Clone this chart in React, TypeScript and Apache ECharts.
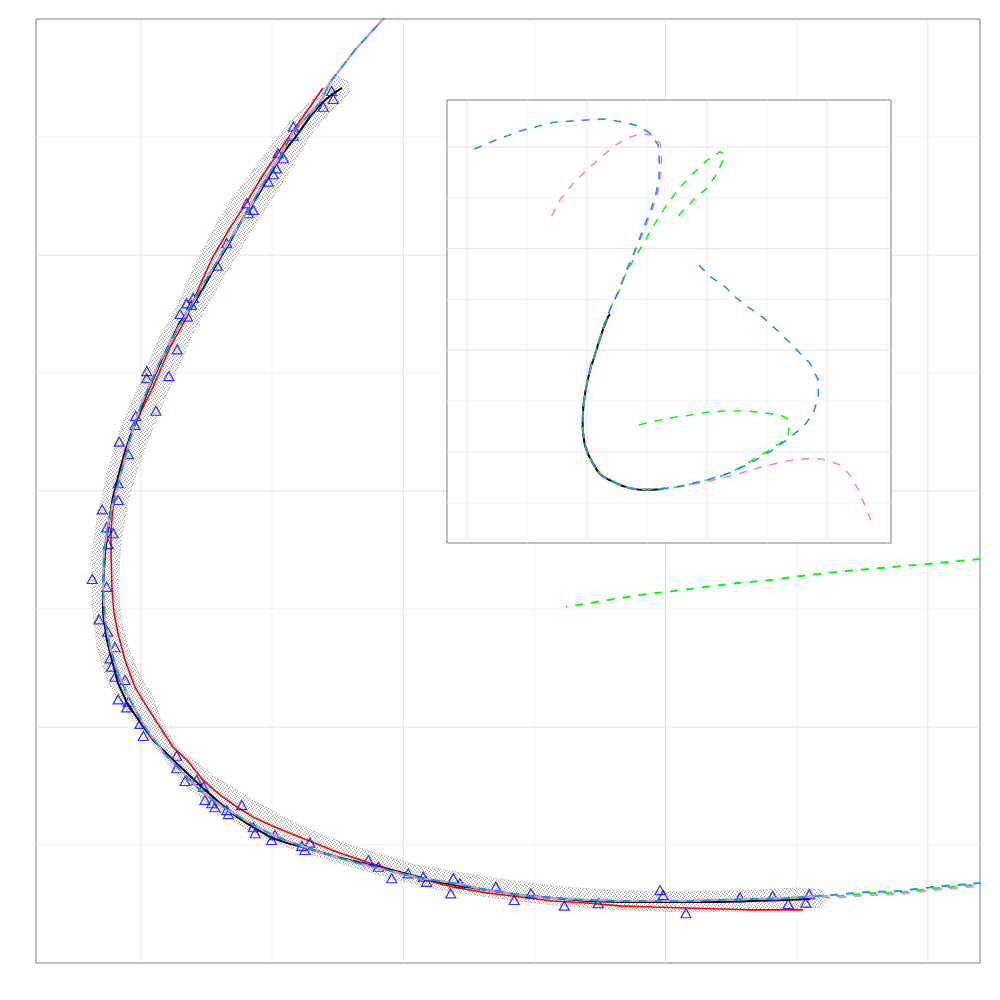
import React, { useEffect, useRef } from "react";
import * as echarts from "echarts";

// ---------- data (axis units; main panel: x -0.4..3.2, y -1..3) ----------
const mainXMajor = [0, 1, 2, 3];
const mainXMinor = [0.5, 1.5, 2.5];
const mainYMajor = [0, 1, 2];
const mainYMinor = [-0.5, 0.5, 1.5, 2.5];
const insetXMajor = [-4, 0, 4, 8];
const insetXMinor = [-2, 2, 6, 10];
const insetYMajor = [0, 2, 4, 6];
const insetYMinor = [-1, 1, 3, 5];

const blackCurve: number[][] = [
  [0.766, 2.708], [0.721, 2.674], [0.69, 2.644], [0.644, 2.585], [0.595, 2.508], [0.541, 2.432],
  [0.492, 2.339], [0.442, 2.246], [0.389, 2.157], [0.339, 2.055], [0.282, 1.949], [0.233, 1.852],
  [0.198, 1.788], [0.149, 1.716], [0.084, 1.568], [0.023, 1.415], [-0.042, 1.229], [-0.08, 1.089],
  [-0.107, 0.975], [-0.126, 0.843], [-0.137, 0.737], [-0.145, 0.593], [-0.145, 0.483], [-0.13, 0.369],
  [-0.111, 0.284], [-0.088, 0.186], [-0.053, 0.102], [-0.004, 0.021], [0.046, -0.055], [0.111, -0.127],
  [0.175, -0.195], [0.236, -0.258], [0.301, -0.322], [0.366, -0.381], [0.427, -0.424], [0.492, -0.466],
  [0.557, -0.492], [0.633, -0.513], [0.747, -0.551], [0.873, -0.585], [0.999, -0.619], [1.102, -0.648],
  [1.189, -0.669], [1.319, -0.691], [1.445, -0.712], [1.571, -0.725], [1.7, -0.737], [1.826, -0.742],
  [1.952, -0.742], [2.082, -0.742], [2.207, -0.742], [2.333, -0.737], [2.463, -0.733], [2.551, -0.729],
];

const redCurve: number[][] = [
  [0.694, 2.708], [0.644, 2.627], [0.595, 2.551], [0.53, 2.445], [0.465, 2.339], [0.404, 2.225],
  [0.339, 2.114], [0.274, 1.992], [0.225, 1.873], [0.175, 1.737], [0.111, 1.61], [0.046, 1.441],
  [-0.015, 1.301], [-0.061, 1.174], [-0.088, 1.059], [-0.107, 0.932], [-0.114, 0.835], [-0.114, 0.737],
  [-0.111, 0.593], [-0.103, 0.483], [-0.088, 0.398], [-0.061, 0.284], [-0.023, 0.169], [0.023, 0.085],
  [0.072, 0], [0.122, -0.085], [0.175, -0.14], [0.236, -0.225], [0.301, -0.288], [0.366, -0.339],
  [0.427, -0.381], [0.492, -0.415], [0.557, -0.445], [0.633, -0.479], [0.747, -0.53], [0.873, -0.576],
  [0.999, -0.619], [1.128, -0.661], [1.189, -0.678], [1.319, -0.703], [1.445, -0.72], [1.571, -0.737],
  [1.7, -0.746], [1.826, -0.758], [1.952, -0.763], [2.082, -0.767], [2.207, -0.771], [2.333, -0.775],
  [2.524, -0.775],
];

// shared middle part of the three dashed curves
const dashCore: number[][] = [
  [0.816, 2.869], [0.77, 2.801], [0.721, 2.733], [0.682, 2.644], [0.629, 2.581], [0.58, 2.521],
  [0.53, 2.415], [0.48, 2.331], [0.416, 2.203], [0.328, 2.042], [0.236, 1.873], [0.194, 1.788],
  [0.137, 1.682], [0.072, 1.547], [0.008, 1.386], [-0.023, 1.288], [-0.053, 1.174], [-0.08, 1.059],
  [-0.107, 0.949], [-0.126, 0.856], [-0.141, 0.737], [-0.145, 0.593], [-0.137, 0.453], [-0.118, 0.339],
  [-0.092, 0.242], [-0.061, 0.157], [-0.015, 0.059], [0.023, -0.013], [0.084, -0.106], [0.149, -0.182],
  [0.225, -0.267], [0.29, -0.322], [0.351, -0.364], [0.427, -0.415], [0.503, -0.458], [0.58, -0.492],
  [0.682, -0.53], [0.808, -0.572], [0.938, -0.606], [1.064, -0.64], [1.189, -0.661], [1.319, -0.691],
  [1.445, -0.712], [1.571, -0.725], [1.7, -0.733], [1.826, -0.737], [1.952, -0.737], [2.082, -0.737],
  [2.207, -0.733], [2.333, -0.729], [2.463, -0.725], [2.577, -0.716],
];

const blueHead: number[][] = [
  [-3.757, 5.961], [-3.123, 6.118], [-2.123, 6.335], [-1.123, 6.486], [-0.01, 6.532], [0.543, 6.551],
  [1.157, 6.498], [1.71, 6.414], [2.1, 6.27], [2.377, 6.04], [2.41, 5.745], [2.4, 5.385], [2.3, 5.089],
  [2.123, 4.761], [1.9, 4.432], [1.71, 4.137], [1.49, 3.811], [1.267, 3.516], [1.077, 3.187],
];
const blueTail: number[][] = [
  [2.638, -0.712], [2.768, -0.699], [2.894, -0.695], [3.019, -0.678], [3.199, -0.661],
  [3.99, -0.551], [4.767, -0.407], [5.433, -0.222], [6.1, 0.006], [6.657, 0.236], [7.21, 0.498],
  [7.543, 0.761], [7.71, 1.088], [7.71, 1.416], [7.433, 1.745], [7.1, 1.942], [6.767, 2.15],
  [6.323, 2.4], [5.877, 2.642], [5.433, 2.827], [4.99, 3.024], [4.6, 3.252], [4.157, 3.429], [3.69, 3.699],
];

const greenHead: number[][] = [
  [3.043, 4.649], [3.543, 4.958], [3.99, 5.188], [4.267, 5.416], [4.543, 5.745], [4.6, 5.843],
  [4.433, 5.908], [3.99, 5.731], [3.377, 5.385], [2.99, 5.121], [2.657, 4.859], [2.377, 4.598],
  [2.1, 4.334], [1.823, 4.039], [1.543, 3.777], [1.3, 3.516], [1.077, 3.187],
];
const greenTail: number[][] = [
  [2.638, -0.718], [2.768, -0.705], [2.894, -0.701], [3.019, -0.684], [3.199, -0.667],
  [3.99, -0.551], [4.767, -0.419], [5.433, -0.191], [5.99, 0.006], [6.433, 0.171], [6.71, 0.334],
  [6.743, 0.531], [6.657, 0.663], [6.433, 0.728], [5.877, 0.773], [5.323, 0.807], [4.657, 0.807],
  [3.99, 0.781], [3.323, 0.714], [3.199, 0.712], [3.046, 0.696], [2.919, 0.683], [2.792, 0.671],
  [2.665, 0.658], [2.538, 0.643], [2.411, 0.624], [2.284, 0.611], [2.157, 0.594], [2.029, 0.576],
  [1.902, 0.559], [1.775, 0.537], [1.648, 0.513], [1.62, 0.51],
];

const violetHead: number[][] = [
  [-1.177, 4.643], [-0.9, 4.958], [-0.457, 5.286], [-0.01, 5.548], [0.433, 5.778], [0.877, 6.006],
  [1.323, 6.172], [1.767, 6.256], [2.21, 6.236], [2.433, 6.073], [2.49, 5.876], [2.457, 5.483],
  [2.377, 5.154], [2.21, 4.826], [1.99, 4.499], [1.767, 4.171], [1.523, 3.842], [1.3, 3.516], [1.077, 3.187],
];
const violetTail: number[][] = [
  [2.638, -0.725], [2.768, -0.712], [2.894, -0.708], [3.019, -0.691], [3.199, -0.674],
  [3.99, -0.584], [4.767, -0.472], [5.657, -0.321], [6.323, -0.222], [6.877, -0.157], [7.543, -0.124],
  [7.99, -0.157], [8.433, -0.256], [8.823, -0.486], [9.1, -0.813], [9.323, -1.141], [9.49, -1.391],
];

const observations: number[][] = [
  [0.727, 2.695], [0.733, 2.661], [0.695, 2.628], [0.581, 2.544], [0.581, 2.506], [0.523, 2.431],
  [0.543, 2.41], [0.517, 2.367], [0.504, 2.342], [0.485, 2.311], [0.403, 2.219], [0.428, 2.191],
  [0.409, 2.177], [0.327, 2.05], [0.291, 1.955], [0.199, 1.818], [0.174, 1.795], [0.193, 1.788],
  [0.149, 1.75], [0.177, 1.739], [0.138, 1.6], [0.022, 1.508], [0.022, 1.478], [0.106, 1.487],
  [0.057, 1.34], [-0.02, 1.318], [-0.023, 1.28], [-0.083, 1.209], [-0.048, 1.156], [-0.087, 1.033],
  [-0.087, 0.962], [-0.148, 0.922], [-0.131, 0.846], [-0.106, 0.821], [-0.125, 0.775], [-0.186, 0.627],
  [-0.131, 0.594], [-0.16, 0.456], [-0.127, 0.404], [-0.099, 0.338], [-0.118, 0.291], [-0.112, 0.256],
  [-0.099, 0.213], [-0.061, 0.199], [-0.087, 0.117], [-0.048, 0.107], [-0.055, 0.083], [-0.004, 0.013],
  [0.009, -0.038], [0.136, -0.122], [0.136, -0.175], [0.168, -0.229], [0.212, -0.225], [0.238, -0.253],
  [0.244, -0.309], [0.27, -0.323], [0.282, -0.34], [0.327, -0.352], [0.333, -0.369], [0.384, -0.331],
  [0.428, -0.425], [0.435, -0.45], [0.498, -0.479], [0.511, -0.458], [0.613, -0.504], [0.644, -0.49],
  [0.625, -0.521], [0.867, -0.564], [0.905, -0.592], [0.956, -0.641], [1.019, -0.62], [1.076, -0.634],
  [1.089, -0.656], [1.191, -0.641], [1.216, -0.662], [1.181, -0.705], [1.353, -0.677], [1.423, -0.733],
  [1.487, -0.705], [1.614, -0.757], [1.743, -0.747], [1.979, -0.691], [1.991, -0.712], [2.078, -0.789],
  [2.284, -0.722], [2.408, -0.716], [2.468, -0.75], [2.535, -0.744], [2.548, -0.708],
];

// outline of the grey band around the fitted curve
const bandOutline: number[][] = [
  [0.751, 2.758], [0.789, 2.733], [0.797, 2.691], [0.721, 2.606], [0.656, 2.521], [0.606, 2.436],
  [0.557, 2.339], [0.492, 2.225], [0.427, 2.114], [0.366, 2.0], [0.29, 1.86], [0.244, 1.767],
  [0.187, 1.64], [0.111, 1.441], [0.042, 1.258], [-0.015, 1.089], [-0.053, 0.941], [-0.076, 0.792],
  [-0.088, 0.593], [-0.076, 0.453], [-0.05, 0.339], [-0.011, 0.233], [0.042, 0.136], [0.072, 0.042],
  [0.13, -0.076], [0.271, -0.203], [0.427, -0.309], [0.557, -0.39], [0.682, -0.453], [0.808, -0.504],
  [0.938, -0.547], [1.064, -0.589], [1.319, -0.636], [1.571, -0.674], [1.826, -0.695], [2.082, -0.699],
  [2.333, -0.691], [2.512, -0.682], [2.596, -0.691], [2.623, -0.725],
  [2.596, -0.763], [2.333, -0.78], [2.082, -0.784], [1.826, -0.775], [1.571, -0.754], [1.319, -0.72],
  [1.14, -0.691], [1.064, -0.669], [0.938, -0.636], [0.808, -0.593], [0.682, -0.551], [0.557, -0.508],
  [0.427, -0.449], [0.301, -0.364], [0.175, -0.254], [0.072, -0.11], [-0.004, -0.004], [-0.069, 0.085],
  [-0.13, 0.199], [-0.168, 0.339], [-0.187, 0.525], [-0.187, 0.737], [-0.168, 0.877], [-0.126, 1.089],
  [-0.08, 1.258], [-0.015, 1.428], [0.061, 1.627], [0.149, 1.809], [0.21, 1.97], [0.271, 2.097],
  [0.339, 2.225], [0.416, 2.339], [0.492, 2.458], [0.568, 2.564], [0.671, 2.678], [0.713, 2.729],
];

const blueCurve = [...blueHead, ...dashCore, ...blueTail];
const greenCurve = [...greenHead, ...dashCore, ...greenTail];
const violetCurve = [...violetHead, ...dashCore, ...violetTail];

// ---------- layout ----------
const MAIN_X: [number, number] = [-0.4003, 3.199];
const MAIN_Y: [number, number] = [-1, 3];
const INSET_X: [number, number] = [-4.667, 10.133];
const INSET_Y: [number, number] = [-1.79, 6.925];

function gridLines(xi: number, vals: number[], vertical: boolean, xr: number[], yr: number[], color: string, z: number) {
  return {
    type: "custom",
    xAxisIndex: xi,
    yAxisIndex: xi,
    z,
    silent: true,
    data: vals.map((v) => (vertical ? [v, yr[0]] : [xr[0], v])),
    renderItem: (_p: any, api: any) => {
      const v = api.value(vertical ? 0 : 1);
      const a = vertical ? api.coord([v, yr[0]]) : api.coord([xr[0], v]);
      const b = vertical ? api.coord([v, yr[1]]) : api.coord([xr[1], v]);
      return {
        type: "line",
        shape: { x1: a[0], y1: a[1], x2: b[0], y2: b[1] },
        style: { stroke: color, lineWidth: 1 },
      };
    },
  };
}

function curve(xi: number, data: number[][], color: string, width: number, dashed: boolean, z: number) {
  return {
    type: "line",
    xAxisIndex: xi,
    yAxisIndex: xi,
    data,
    z,
    symbol: "none",
    showSymbol: false,
    silent: true,
    clip: true,
    lineStyle: { color, width, type: dashed ? [8, 8] : "solid", cap: "butt" },
  };
}

const hiddenAxis = (gi: number, r: [number, number]) => ({
  type: "value",
  gridIndex: gi,
  min: r[0],
  max: r[1],
  axisLine: { show: false },
  axisTick: { show: false },
  axisLabel: { show: false },
  splitLine: { show: false },
});

function stippleTile(): any {
  const c = document.createElement("canvas");
  c.width = 4;
  c.height = 4;
  const ctx = c.getContext("2d");
  if (!ctx) return "rgba(130,130,130,0.2)";
  ctx.fillStyle = "#acacac";
  const dots = [[0, 0], [2, 1], [1, 3], [3, 2]];
  dots.forEach(([x, y]) => ctx.fillRect(x, y, 1, 1));
  return { image: c, repeat: "repeat" };
}

export default function App() {
  const ref = useRef<HTMLDivElement>(null);
  useEffect(() => {
    if (!ref.current) return;
    const chart = echarts.init(ref.current, undefined, { renderer: "svg" });
    const MAJ = "#e3e3e3";
    const MIN = "#f3f3f3";
    const bandFill = stippleTile();
    const option: any = {
      animation: false,
      backgroundColor: "#ffffff",
      grid: [
        { left: 36, top: 19, width: 944, height: 944, show: true, backgroundColor: "#ffffff", borderColor: "#7f7f7f", borderWidth: 1, z: 0 },
        { left: 447, top: 100, width: 444, height: 443, show: true, backgroundColor: "#ffffff", borderColor: "#7f7f7f", borderWidth: 1, z: 5 },
      ],
      xAxis: [hiddenAxis(0, MAIN_X), hiddenAxis(1, INSET_X)],
      yAxis: [hiddenAxis(0, MAIN_Y), hiddenAxis(1, INSET_Y)],
      series: [
        gridLines(0, mainXMinor, true, MAIN_X, MAIN_Y, MIN, 1),
        gridLines(0, mainYMinor, false, MAIN_X, MAIN_Y, MIN, 1),
        gridLines(0, mainXMajor, true, MAIN_X, MAIN_Y, MAJ, 1),
        gridLines(0, mainYMajor, false, MAIN_X, MAIN_Y, MAJ, 1),
        {
          type: "custom",
          xAxisIndex: 0,
          yAxisIndex: 0,
          z: 1,
          silent: true,
          data: [bandOutline[0]],
          renderItem: (params: any, api: any) => {
            if (params.dataIndex !== 0) return null;
            return {
              type: "polygon",
              shape: { points: bandOutline.map((p) => api.coord(p)) },
              style: { fill: bandFill, stroke: "#a6a6a6", lineWidth: 1, lineDash: [1, 2] },
            };
          },
        },
        {
          type: "scatter",
          xAxisIndex: 0,
          yAxisIndex: 0,
          z: 3,
          silent: true,
          data: observations,
          symbol: "triangle",
          symbolSize: [10, 9],
          itemStyle: { color: "rgba(0,0,0,0)", borderColor: "#0000ff", borderWidth: 1.2 },
        },
        curve(0, redCurve, "#ff0000", 1.6, false, 3),
        curve(0, blackCurve, "#000000", 2, false, 3),
        curve(0, greenCurve, "#00ff00", 2, true, 4),
        curve(0, violetCurve, "#ee82ee", 2, true, 4),
        curve(0, blueCurve, "#1e90ff", 2, true, 4),
        // inset
        gridLines(1, insetXMinor, true, INSET_X, INSET_Y, MIN, 6),
        gridLines(1, insetYMinor, false, INSET_X, INSET_Y, MIN, 6),
        gridLines(1, insetXMajor, true, INSET_X, INSET_Y, MAJ, 6),
        gridLines(1, insetYMajor, false, INSET_X, INSET_Y, MAJ, 6),
        curve(1, blackCurve, "#000000", 2, false, 8),
        curve(1, greenCurve, "#00ff00", 1.6, true, 9),
        curve(1, violetCurve, "#ee82ee", 1.6, true, 9),
        curve(1, blueCurve, "#1e90ff", 1.6, true, 9),
      ],
    };
    chart.setOption(option);
    return () => chart.dispose();
  }, []);
  return (
    <div
      ref={ref}
      style={{ position: "fixed", left: 0, top: 0, width: 1000, height: 1000, background: "#fff" }}
    />
  );
}
